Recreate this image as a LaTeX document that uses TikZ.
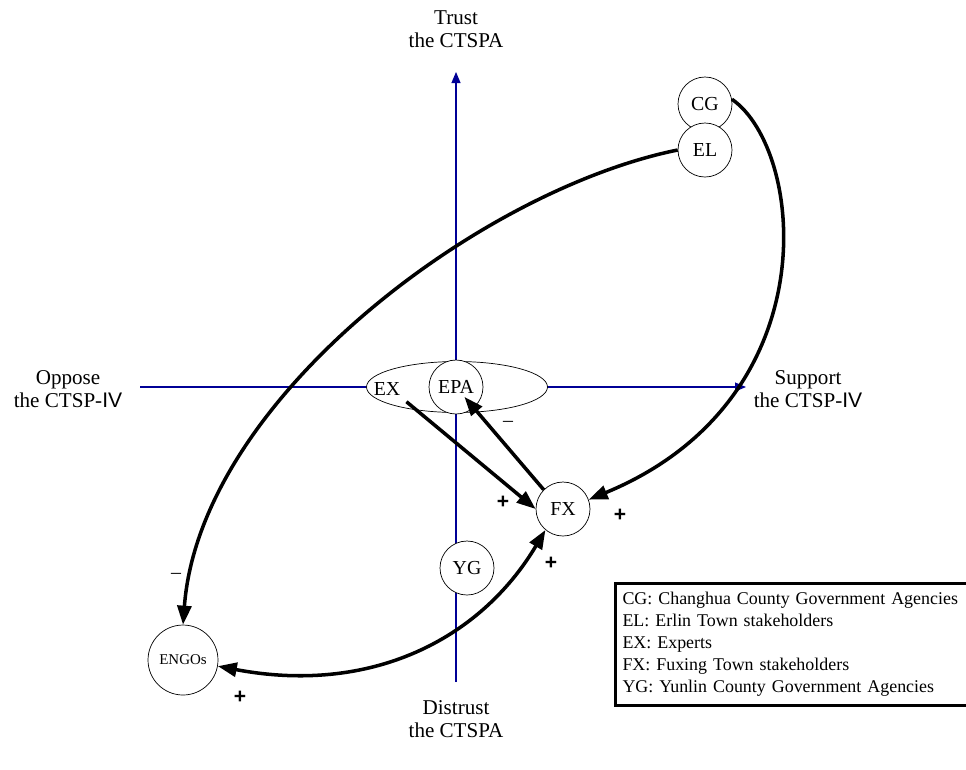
\documentclass[tikz,border=0pt]{standalone}
\usepackage{fontspec}
\setmainfont{Liberation Serif}
\newfontfamily\signfont{Liberation Sans}
\usetikzlibrary{positioning,arrows.meta,shapes.geometric}
\definecolor{axisblue}{RGB}{0,0,150}

\begin{document}
\begin{tikzpicture}[%
            x=0.02cm, y=-0.02cm,
            font=\fontsize{11.3}{13}\selectfont,
            actor/.style={circle, draw, fill=white, minimum size=1.08cm, inner sep=0pt},
            axis/.style={-{Triangle[length=0.22cm,width=0.18cm]}, draw=axisblue, fill=axisblue, line width=0.6pt},
            axislabel/.style={align=center, font=\fontsize{12}{13}\selectfont},
            arrow/.style={-{Triangle[length=0.38cm,width=0.28cm]}, line width=2pt},
            sign/.style={font=\signfont\bfseries\fontsize{12}{13}\selectfont}
        ]
        \useasboundingbox (0,0) rectangle (966,769);
        
        % Axes
        \coordinate (bottom) at (456,682);
        \coordinate (top) at (456,72);
        \coordinate (left) at (140,387);
        \coordinate (right) at (746,387);
        \draw[axis] (bottom) -- (top);
        \draw[axis] (left) -- (right);
        
        % Axis labels
        \node[axislabel] (trust) at (456,29) {Trust\\the CTSPA};
        \node[axislabel] (distrust) at (456,719) {Distrust\\the CTSPA};
        \node[axislabel] (oppose) at (68,389) {Oppose\\the CTSP-{\signfont IV}};
        \node[axislabel] (support) at (808,389) {Support\\the CTSP-{\signfont IV}};
        
        % Stakeholders
        \node[ellipse, draw, fill=white, minimum width=3.62cm, minimum height=1.02cm] (group) at (457,387) {};
        \node (EX) at (387,389) {EX};
        \node[actor] (EPA) at (456,387) {EPA};
        \node[actor] (FX) at (563,509) {FX};
        \node[actor] (YG) at (467,568) {YG};
        \node[actor] (CG) at (705,104) {CG};
        \node[actor] (EL) at (705,150) {EL};
        \node[actor, minimum size=1.4cm, font=\fontsize{8.5}{10}\selectfont] (ENGOs) at (183,660) {ENGOs};
        
        % Influences
        \draw[arrow] (EX.south east) -- (FX.west);
        \draw[arrow, shorten >=0.26cm] (FX.north west) -- (EPA.center);
        \draw[arrow] (CG.10) .. controls (805,150) and (830,400) .. (FX.20);
        \draw[arrow] (EL.west) .. controls (480,190) and (200,400) .. (ENGOs.north);
        \draw[arrow, {Triangle[length=0.38cm,width=0.28cm]}-{Triangle[length=0.38cm,width=0.28cm]}] (ENGOs.-10) .. controls (370,695) and (480,640) .. (FX.230);
        
        % Signs
        \node[sign] (s1) at (503,502) {+};
        \node (s2) at (508,424) {--};
        \node[sign] (s3) at (620,515) {+};
        \node[sign] (s4) at (551,563) {+};
        \node[sign] (s5) at (240,697) {+};
        \node (s6) at (176,576) {--};
        
        % Legend
        \node[draw, line width=1.7pt, anchor=north west, align=left, text width=7.4cm, inner xsep=0.14cm, inner ysep=0.18cm, font=\fontsize{10.2}{12.5}\selectfont] (legend) at (614,582) {CG: Changhua County Government Agencies\\EL: Erlin Town stakeholders\\EX: Experts\\FX: Fuxing Town stakeholders\\YG: Yunlin County Government Agencies};
        
        \end{tikzpicture}
\end{document}
